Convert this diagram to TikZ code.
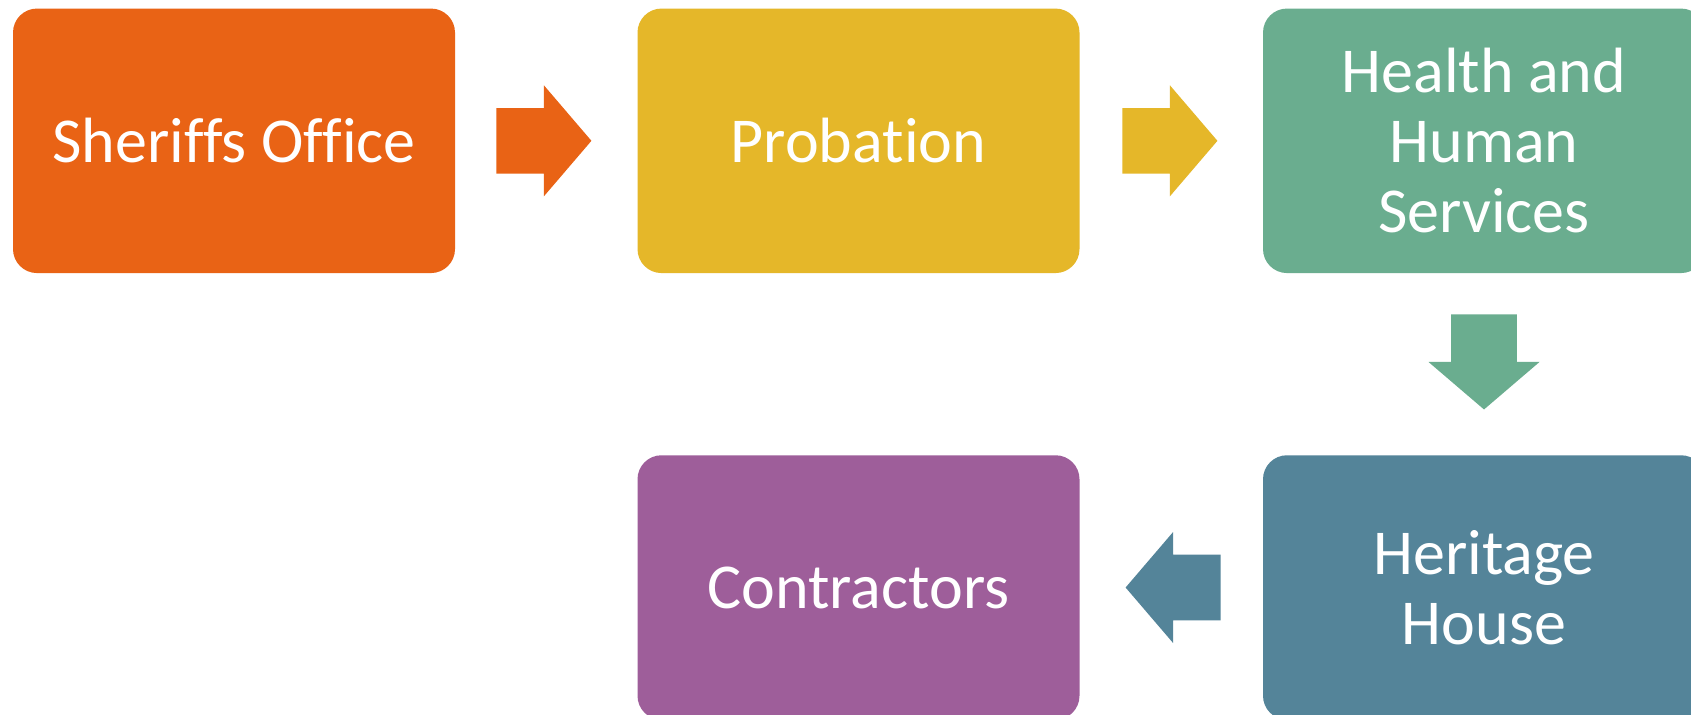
\documentclass[tikz,border=0pt]{standalone}
\usepackage{fontspec}
\setmainfont[Ligatures=NoCommon]{Carlito}
\usetikzlibrary{calc}
\definecolor{cOrange}{RGB}{233,99,21}
\definecolor{cGold}{RGB}{229,183,41}
\definecolor{cGreen}{RGB}{106,173,143}
\definecolor{cBlue}{RGB}{84,132,153}
\definecolor{cPurple}{RGB}{158,94,154}
\begin{document}
\begin{tikzpicture}[x=0.5pt,y=0.5pt,
  box/.style={rounded corners=12pt, minimum width=221pt, minimum height=132.25pt,
    inner sep=0pt, text=white, align=center, font=\fontsize{32}{35}\selectfont},
  blockarrow/.pic={\fill[#1] (0,-32.8) -- (47.5,-32.8) -- (47.5,-55.5) -- (95,0)
    -- (47.5,55.5) -- (47.5,32.8) -- (0,32.8) -- cycle;}]
\fill[white] (0,0) rectangle (1691,-714);
\useasboundingbox (0,0) rectangle (1691,-714);
\clip (0,0) rectangle (1691,-714);
\node[box, fill=cOrange] (so) at (234,-140.8) {Sheriffs Office};
\node[box, fill=cGold] (pb) at (858.5,-140.8) {Probation};
\node[box, fill=cGreen] (hh) at (1484,-140.8) {Health and\\Human\\Services};
\node[box, fill=cBlue] (hr) at (1484,-587.5) {Heritage\\House};
\node[box, fill=cPurple] (ct) at (858.5,-587.5) {Contractors};
\pic at ($(so.east)+(41,0)$) {blockarrow=cOrange};
\pic at ($(pb.east)+(42.5,0)$) {blockarrow=cGold};
\pic[rotate=-90] at ($(hh.south)+(0,-41)$) {blockarrow=cGreen};
\pic[rotate=180] at ($(hr.west)+(-42,0)$) {blockarrow=cBlue};
\end{tikzpicture}
\end{document}
